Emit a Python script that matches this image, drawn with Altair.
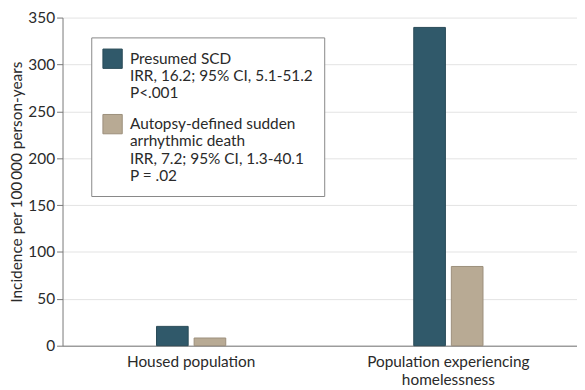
import altair as alt
import pandas as pd

groups = ["Housed population", "Population experiencing homelessness"]
series = ["Presumed SCD", "Autopsy-defined sudden arrhythmic death"]
scd_values = [20.6, 339.5]
sad_values = [8.2, 84.5]
legend_lines = {
    "Presumed SCD": ["Presumed SCD", "IRR, 16.2; 95% CI, 5.1-51.2", "P<.001"],
    "Autopsy-defined sudden arrhythmic death": ["Autopsy-defined sudden", "arrhythmic death",
                                                "IRR, 7.2; 95% CI, 1.3-40.1", "P = .02"],
}
colors = ["#30596a", "#b8aa94"]
strokes = ["#284a57", "#9c8f7b"]

rows = []
for g, a, b in zip(groups, scd_values, sad_values):
    rows.append({"group": g, "series": series[0], "value": a})
    rows.append({"group": g, "series": series[1], "value": b})
df = pd.DataFrame(rows)

FONT = "Lato"
FS = 15.5

label_expr = (
    "datum.label == 'Presumed SCD' ? "
    + str(legend_lines[series[0]])
    + " : "
    + str(legend_lines[series[1]])
)
x_label_expr = "datum.label == 'Population experiencing homelessness' ? ['Population experiencing', 'homelessness'] : datum.label"

chart = (
    alt.Chart(df)
    .mark_bar(strokeWidth=1)
    .encode(
        x=alt.X(
            "group:N",
            sort=groups,
            scale=alt.Scale(paddingInner=0.7308, paddingOuter=0.3654),
            axis=alt.Axis(
                title=None,
                labelAngle=0,
                ticks=False,
                labelExpr=x_label_expr,
                labelFontSize=FS,
                labelFont=FONT,
                labelColor="#2a2a2a",
                labelPadding=9,
                labelLineHeight=18,
                domainColor="#777777",
                grid=False,
            ),
        ),
        xOffset=alt.XOffset(
            "series:N",
            sort=series,
            scale=alt.Scale(paddingInner=0.158, paddingOuter=0),
        ),
        y=alt.Y(
            "value:Q",
            scale=alt.Scale(domain=[0, 350]),
            axis=alt.Axis(
                title="Incidence per 100\u2009000 person-years",
                titleFont=FONT,
                titleFontSize=FS,
                titleFontWeight="normal",
                titleColor="#2a2a2a",
                titlePadding=3,
                values=[0, 50, 100, 150, 200, 250, 300, 350],
                labelFont=FONT,
                labelFontSize=FS,
                labelColor="#2a2a2a",
                labelPadding=2,
                tickColor="#777777",
                tickSize=6,
                domainColor="#777777",
                gridColor="#e3e3e3",
            ),
        ),
        color=alt.Color(
            "series:N",
            sort=series,
            scale=alt.Scale(domain=series, range=colors),
            legend=alt.Legend(
                title=None,
                orient="none",
                legendX=29,
                legendY=20,
                symbolType="square",
                symbolSize=380,
                symbolStrokeWidth=1,
                labelFont=FONT,
                labelFontSize=FS,
                labelColor="#2a2a2a",
                labelExpr=label_expr,
                labelLimit=320,
                labelBaseline="middle",
                rowPadding=10,
                padding=11,
                strokeColor="#888888",
                fillColor="white",
                labelOffset=7,
            ),
        ),
        stroke=alt.Stroke(
            "series:N",
            sort=series,
            scale=alt.Scale(domain=series, range=strokes),
            legend=None,
        ),
    )
    .properties(
        width=519,
        height=331,
        autosize=alt.AutoSizeParams(type="none"),
        padding={"left": 55, "top": 8, "right": 0, "bottom": 40},
    )
    .configure_view(stroke=None)
)

chart.save("out.html", embed_options={"renderer": "svg", "actions": False})
